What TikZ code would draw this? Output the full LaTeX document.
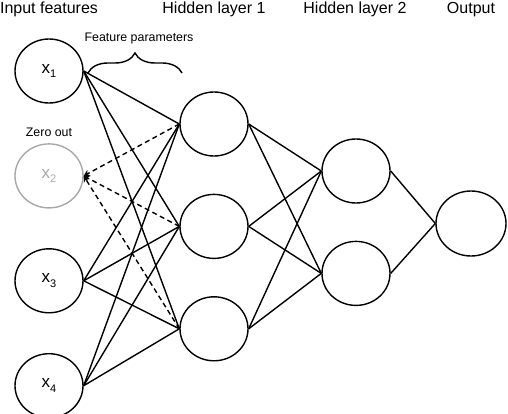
\documentclass[tikz,border=0pt]{standalone}
\usepackage{fontspec}
\setmainfont{Liberation Sans}
\usepackage{xcolor}
\usepackage{tikz}
\usetikzlibrary{shapes.geometric, positioning, arrows.meta, decorations.pathreplacing}
\definecolor{unitblack}{HTML}{000000}
\definecolor{zerogray}{HTML}{A8A8A8}
\newcommand{\unitlabel}[1]{x\raisebox{-4.5pt}{\fontsize{11}{11}\selectfont #1}}

\begin{document}
\begin{tikzpicture}[x=1pt, y=-1pt, node distance=38pt]
    \useasboundingbox (0,0) rectangle (508,414);
    % Styles
    \tikzstyle{neuron} = [ellipse, draw=unitblack, line width=1.4pt, minimum width=68pt, minimum height=64pt, inner sep=0pt, font=\fontsize{17}{20}\selectfont]
    \tikzstyle{dropped} = [neuron, draw=zerogray, text=zerogray]
    \tikzstyle{title} = [anchor=base, inner sep=0pt, font=\fontsize{16}{19}\selectfont]
    \tikzstyle{note} = [inner sep=0pt, font=\fontsize{12.4}{15}\selectfont]
    \tikzstyle{line} = [draw, line width=1.4pt, unitblack]
    \tikzstyle{dropline} = [draw, line width=1.4pt, unitblack, dash pattern=on 5pt off 3.5pt, -{Stealth[length=6pt, width=7pt]}]

    % Nodes
    \node [neuron] (x1) at (49,71) {\unitlabel{1}};
    \node [dropped, below=39.5pt of x1] (x2) {\unitlabel{2}};
    \node [neuron, below=39.5pt of x2] (x3) {\unitlabel{3}};
    \node [neuron, below=39.5pt of x3] (x4) {\unitlabel{4}};
    \node [neuron] (h1a) at (214,124) {};
    \node [neuron, below=37pt of h1a] (h1b) {};
    \node [neuron, below=37pt of h1b] (h1c) {};
    \node [neuron] (h2a) at (356,171) {};
    \node [neuron, below=37pt of h2a] (h2b) {};
    \node [neuron, minimum width=70pt, minimum height=65pt] (out) at (471,223.5) {};

    % Titles and notes
    \node [title] (tin) at (49,13.5) {Input features};
    \node [title] (th1) at (214,13.5) {Hidden layer 1};
    \node [title] (th2) at (355,13.5) {Hidden layer 2};
    \node [title] (tout) at (471,13.5) {Output};
    \node [note] (zero) at (49,132) {Zero out};
    \node [note] (params) at (139,39) {Feature parameters};
    \coordinate (bl) at (88,73);
    \coordinate (br) at (182,73);
    \draw [line, decorate, decoration={brace, amplitude=20pt}] (bl) -- (br);

    % Paths
    \path [line] (x1.east) -- (h1a.west);
    \path [line] (x1.east) -- (h1b.west);
    \path [line] (x1.east) -- (h1c.west);
    \path [dropline] (h1a.west) -- (x2.east);
    \path [dropline] (h1b.west) -- (x2.east);
    \path [dropline] (h1c.west) -- (x2.east);
    \path [line] (x3.east) -- (h1a.west);
    \path [line] (x3.east) -- (h1b.west);
    \path [line] (x3.east) -- (h1c.west);
    \path [line] (x4.east) -- (h1a.west);
    \path [line] (x4.east) -- (h1b.west);
    \path [line] (x4.east) -- (h1c.west);
    \path [line] (h1a.east) -- (h2a.west);
    \path [line] (h1a.east) -- (h2b.west);
    \path [line] (h1b.east) -- (h2a.west);
    \path [line] (h1b.east) -- (h2b.west);
    \path [line] (h1c.east) -- (h2a.west);
    \path [line] (h1c.east) -- (h2b.west);
    \path [line] (h2a.east) -- (out.west);
    \path [line] (h2b.east) -- (out.west);
\end{tikzpicture}
\end{document}
